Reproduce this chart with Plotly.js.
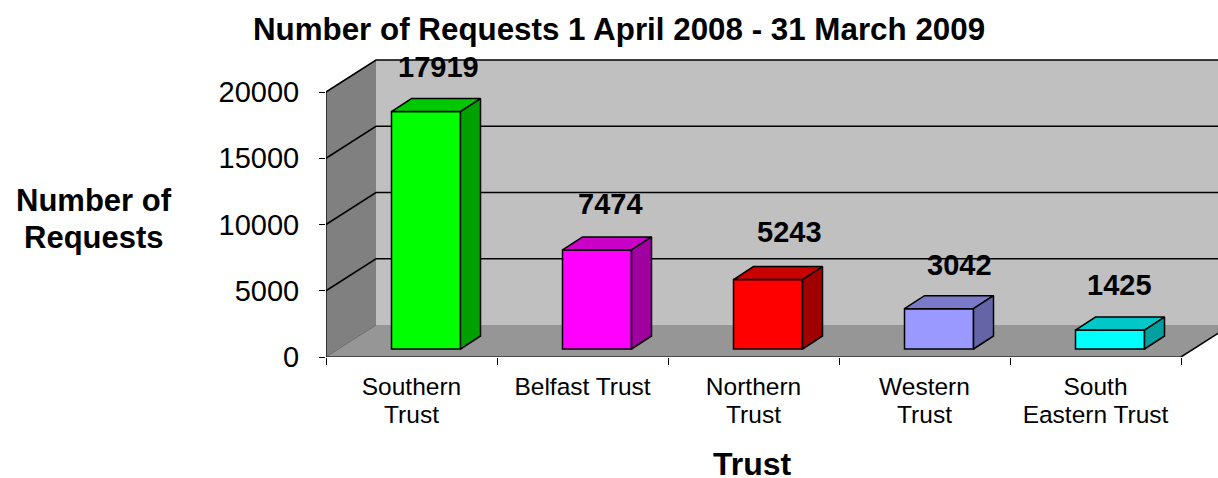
<!DOCTYPE html>
<html>
<head>
<meta charset="utf-8">
<script src="https://cdn.plot.ly/plotly-3.0.1.min.js"></script>
<style>html,body{margin:0;padding:0;background:#fff;overflow:hidden}#chart{width:1218px;height:478px}</style>
</head>
<body>
<div id="chart"></div>
<script>
const categories = ["Southern<br>Trust", "Belfast Trust", "Northern<br>Trust", "Western<br>Trust", "South<br>Eastern Trust"];
const requests = [17919, 7474, 5243, 3042, 1425];
const frontColors = ["#00FF00", "#FF00FF", "#FF0000", "#9999FF", "#00FFFF"];
const topColors = ["#00C800", "#C800C8", "#C80000", "#7A7AC8", "#00C8C8"];
const sideColors = ["#00A000", "#A000A0", "#A00000", "#6464A6", "#00A0A0"];
const yTicks = [0, 5000, 10000, 15000, 20000];

// pixel scale of the plot
const W = 892, H = 299, CAT = 171, PER = 265 / 20000;
const FONT = "Liberation Sans, Arial, sans-serif";
const px = p => p / CAT, vy = p => p / PER;
const xMin = -0.5, xMax = xMin + px(W), yMax = vy(H);
const wallDX = px(50), wallDY = vy(32);
const barDX = px(20), barDY = vy(13), barW = px(69), barShift = px(14.5), barBase = vy(8);
const xEnd = 4.5;

function poly(pts) { return "M" + pts.map(p => p[0] + "," + p[1]).join(" L") + " Z"; }
function open(pts) { return "M" + pts.map(p => p[0] + "," + p[1]).join(" L"); }
const fillShape = (pts, color) => ({type: "path", layer: "below", xref: "x", yref: "y", path: poly(pts), fillcolor: color, line: {width: 0}});
const lineShape = (pts, color, w) => ({type: "path", layer: "below", xref: "x", yref: "y", path: open(pts), line: {color: color, width: w}});

const wallTop = 20000 + wallDY, xBack = xMin + wallDX, xRight = xEnd + wallDX;
const shapes = [
  fillShape([[xBack, wallDY], [xRight, wallDY], [xRight, wallTop], [xBack, wallTop]], "#C0C0C0"),
  fillShape([[xMin, 0], [xBack, wallDY], [xBack, wallTop], [xMin, 20000]], "#808080"),
  fillShape([[xMin, 0], [xBack, wallDY], [xRight, wallDY], [xEnd, 0]], "#969696"),
  lineShape([[xMin, 0], [xBack, wallDY]], "#6a6a6a", 1),
  lineShape([[xEnd, 0], [xRight, wallDY]], "#000000", 1.5)
];
yTicks.slice(1).forEach(v => shapes.push(lineShape([[xMin, v], [xBack, v + wallDY], [xRight, v + wallDY]], "#000000", 1.5)));

const traces = [];
traces.push({
  type: "bar", x: requests.map((_, i) => i + barShift), y: requests, base: barBase, width: barW,
  marker: {color: frontColors, line: {color: "#000000", width: 1.5}},
  hoverinfo: "skip", showlegend: false, cliponaxis: false
});
requests.forEach((v, i) => {
  const l = i + barShift - barW / 2, r = l + barW, b = barBase, t = barBase + v;
  traces.push({type: "scatter", mode: "lines", x: [l, l + barDX, r + barDX, r, l], y: [t, t + barDY, t + barDY, t, t],
    fill: "toself", fillcolor: topColors[i], line: {color: "#000000", width: 1.5}, hoverinfo: "skip", showlegend: false});
  traces.push({type: "scatter", mode: "lines", x: [r, r + barDX, r + barDX, r, r], y: [t, t + barDY, b + barDY, b, t],
    fill: "toself", fillcolor: sideColors[i], line: {color: "#000000", width: 1.5}, hoverinfo: "skip", showlegend: false});
});
// front axis lines
traces.push({type: "scatter", mode: "lines", x: [xMin, xMin, xEnd], y: [20000, 0, 0], line: {color: "#000000", width: 1.2},
  cliponaxis: false, hoverinfo: "skip", showlegend: false});

// data-label placement relative to the category position and bar top
const labelOffsetX = [27, 28, 36, 35, 24];
const labelGapY = [45, 46, 48, 44, 45];
const annotations = requests.map((v, i) => ({
  xref: "x", yref: "y", x: i, y: barBase + v, xshift: labelOffsetX[i], yshift: labelGapY[i],
  text: String(v), showarrow: false, font: {family: FONT, size: 29, color: "#000", weight: 700}
}));
const pageX = p => (p - 326) / W, pageY = p => (357 - p) / H;
[["Number of", 94, 200, 31], ["Requests", 94, 237, 31], ["Trust", 752, 464, 32]].forEach(t => annotations.push({
  xref: "paper", yref: "paper", x: pageX(t[1]), y: pageY(t[2]), xanchor: "center", yanchor: "middle",
  text: "<b>" + t[0] + "</b>", showarrow: false, font: {family: FONT, size: t[3], color: "#000"}
}));

const layout = {
  width: 1218, height: 478,
  margin: {l: 326, r: 0, t: 58, b: 121},
  paper_bgcolor: "#fff", plot_bgcolor: "#fff",
  showlegend: false,
  title: {text: "<b>Number of Requests 1 April 2008 - 31 March 2009</b>", x: 619 / 1218, xanchor: "center", y: 1 - 29 / 478, yanchor: "middle",
    font: {family: FONT, size: 31.35, color: "#000"}},
  xaxis: {
    range: [xMin, xMax], tickmode: "array", tickvals: categories.map((_, i) => i), ticktext: categories,
    ticks: "", showgrid: false, zeroline: false, showline: false, tickangle: 0, ticklabelstandoff: 12,
    tickfont: {family: FONT, size: 24.5, color: "#000"},
    minor: {tickmode: "array", tickvals: [-0.5, 0.5, 1.5, 2.5, 3.5, 4.5], ticks: "outside", ticklen: 7, tickwidth: 1, tickcolor: "#000", showgrid: false}
  },
  yaxis: {
    range: [0, yMax], tickmode: "array", tickvals: yTicks, ticktext: yTicks.map(String), ticks: "outside", ticklen: 6, tickwidth: 1, tickcolor: "#000",
    showgrid: false, zeroline: false, showline: false, ticklabelstandoff: 14,
    tickfont: {family: FONT, size: 29, color: "#000"}
  },
  shapes: shapes,
  annotations: annotations
};
Plotly.newPlot("chart", traces, layout, {displayModeBar: false, staticPlot: true}).then(() => {
  // the reference sets its two-line category labels a little tighter than Plotly's default leading
  document.querySelectorAll(".xtick text tspan.line").forEach(t => {
    if (parseFloat(t.getAttribute("dy")) > 0) t.setAttribute("dy", "28px");
  });
});
</script>
</body>
</html>
